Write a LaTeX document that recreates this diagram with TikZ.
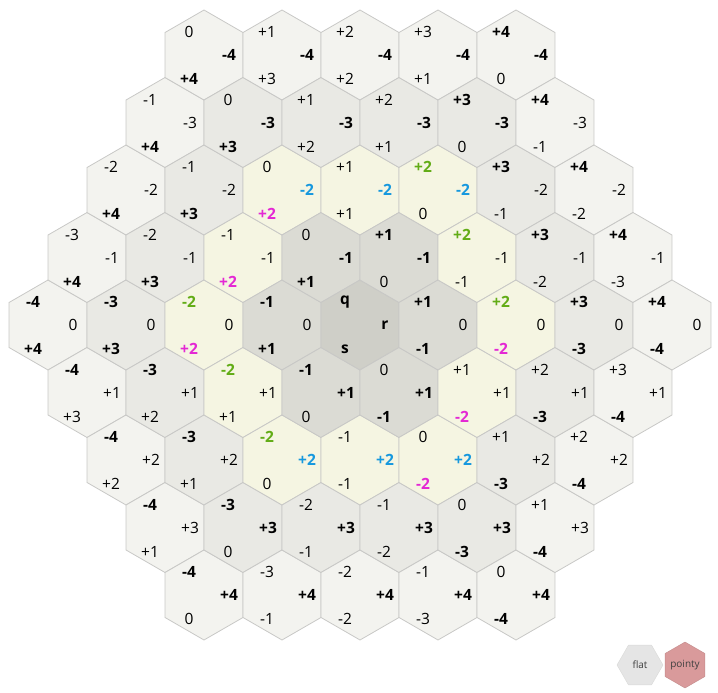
\documentclass[tikz,border=0pt]{standalone}
\usepackage{fontspec}
\setmainfont{Open Sans}
% colours of the rings
\definecolor{ring0}{RGB}{207,207,200}
\definecolor{ring1}{RGB}{219,219,212}
\definecolor{ring2}{RGB}{245,245,226}
\definecolor{ring3}{RGB}{233,233,228}
\definecolor{ring4}{RGB}{243,243,239}
\definecolor{hexline}{RGB}{200,200,198}
\definecolor{qcol}{RGB}{98,172,22}
\definecolor{rcol}{RGB}{22,152,222}
\definecolor{scol}{RGB}{228,40,212}
\definecolor{flatfill}{RGB}{229,229,229}
\definecolor{pointyfill}{RGB}{217,154,155}
% signed number: +1, 0, -1
\newcommand{\signed}[1]{\ifnum#1>0 +#1\else#1\fi}
% one coordinate: value, ring, colour, name, position
\newcommand{\hexlabel}[5]{%
  \pgfmathtruncatemacro{\absval}{abs(#1)}%
  \ifnum\absval=#2
    \ifnum#2=2
      \node[boldlabel, text=#3] (#4) at (#5) {\signed{#1}};
    \else
      \node[boldlabel] (#4) at (#5) {\signed{#1}};
    \fi
  \else
    \node[coordlabel] (#4) at (#5) {\signed{#1}};
  \fi}
\begin{document}
\begin{tikzpicture}[x=1pt, y=-1pt,
  hexcell/.style={draw=hexline, line width=0.8pt},
  coordlabel/.style={inner sep=0pt, font=\fontsize{15.5}{18}\selectfont},
  boldlabel/.style={inner sep=0pt, font=\fontsize{15.5}{18}\selectfont\bfseries},
  buttonlabel/.style={font=\fontsize{10}{11}\selectfont, text=black!75}]
  \useasboundingbox (0,0) rectangle (718,693);
  % grid of pointy hexes, radius 4
  \foreach \q in {-4,...,4} {
    \foreach \r in {-4,...,4} {
      \pgfmathtruncatemacro{\s}{-\q-\r}
      \pgfmathtruncatemacro{\ring}{max(abs(\q),abs(\r),abs(\s))}
      \ifnum\ring<5
        \pgfmathsetmacro{\cx}{360+78*(\q+0.5*\r)}
        \pgfmathsetmacro{\cy}{325+67.5*\r}
        \draw[hexcell, fill=ring\ring] (\cx,\cy) +(90:45) -- +(150:45) -- +(210:45)
          -- +(270:45) -- +(330:45) -- +(30:45) -- cycle;
        \ifnum\ring=0
          % centre hex: names of the axes
          \node[boldlabel] (q0) at (\cx-15,\cy-23) {q};
          \node[boldlabel] (r0) at (\cx+25,\cy) {r};
          \node[boldlabel] (s0) at (\cx-15,\cy+24) {s};
        \else
          \hexlabel{\q}{\ring}{qcol}{q\q\r}{\cx-15,\cy-23}
          \hexlabel{\r}{\ring}{rcol}{r\q\r}{\cx+25,\cy}
          \hexlabel{\s}{\ring}{scol}{s\q\r}{\cx-15,\cy+24}
        \fi
      \fi
    }
  }
  % flat and pointy buttons
  \draw[draw=hexline!70, fill=flatfill] (640,665) +(0:23) -- +(60:23) -- +(120:23)
    -- +(180:23) -- +(240:23) -- +(300:23) -- cycle;
  \node[buttonlabel] (flat) at (640,665) {flat};
  \draw[draw=pointyfill!90!black, fill=pointyfill] (685,665) +(90:23) -- +(150:23)
    -- +(210:23) -- +(270:23) -- +(330:23) -- +(30:23) -- cycle;
  \node[buttonlabel] (pointy) at (685,665) {pointy};
\end{tikzpicture}
\end{document}
